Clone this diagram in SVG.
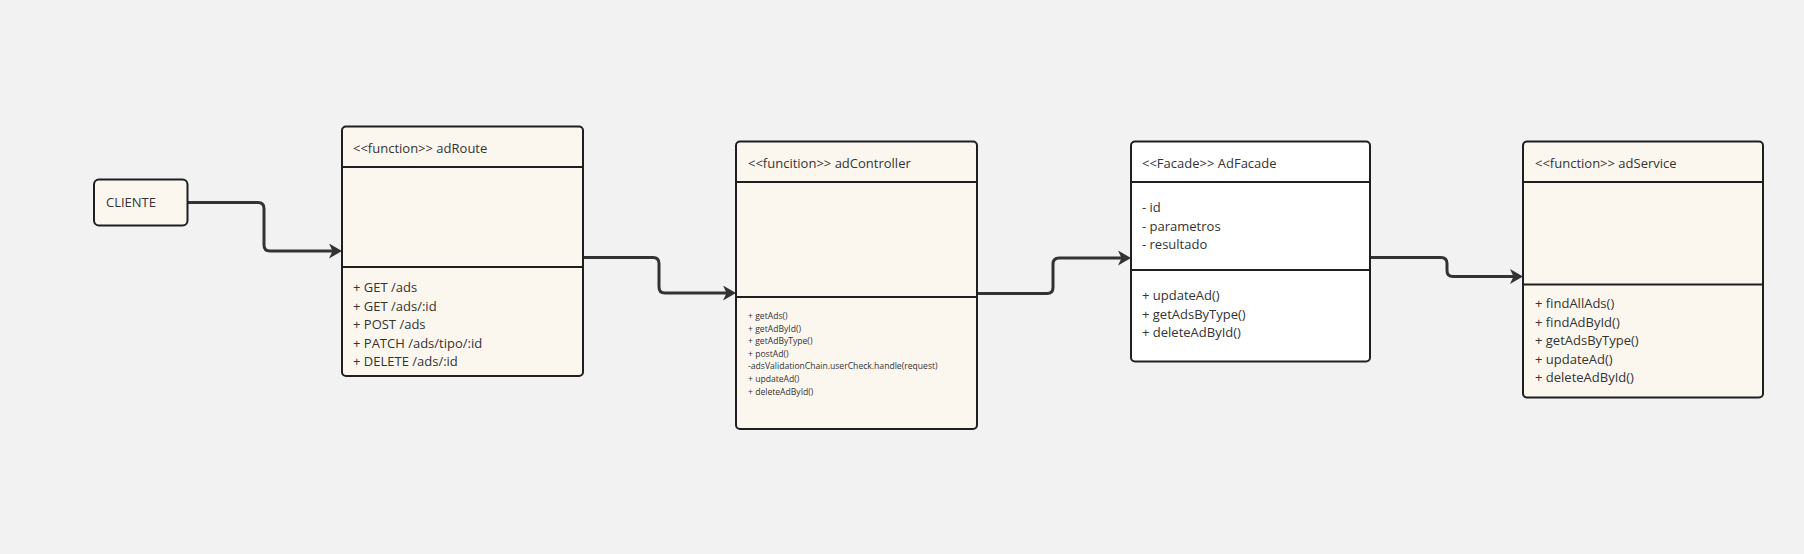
<svg xmlns="http://www.w3.org/2000/svg" width="1804" height="554" viewBox="0 0 1804 554">
<defs>
<style>
.bg{fill:#f2f2f2}
.box{fill:#fbf7ef;stroke:#1f1f1f;stroke-width:2}
.white{fill:#ffffff}
.sep{stroke:#1f1f1f;stroke-width:2}
text{font-family:"Open Sans","Noto Sans","Liberation Sans",sans-serif;fill:#333333}
.t{font-size:13px}
.s{font-size:8.6px}
.conn{fill:none;stroke:#333333;stroke-width:3;stroke-linejoin:round}
</style>
<marker id="arr" markerUnits="userSpaceOnUse" markerWidth="14" markerHeight="16" refX="5" refY="7.5" orient="auto" viewBox="0 0 14 16">
<path d="M0,0 L13,7.5 L0,15 L3.5,7.5 Z" fill="#333333"/>
</marker>
</defs>
<rect class="bg" x="0" y="0" width="1804" height="554"/>

<g id="connectors">
<path class="conn" marker-end="url(#arr)" d="M187,202.5 H258 Q264,202.5 264,208.5 V245 Q264,251 270,251 H334"/>
<path class="conn" marker-end="url(#arr)" d="M583,257.5 H653 Q659,257.5 659,263.5 V287 Q659,293 665,293 H728"/>
<path class="conn" marker-end="url(#arr)" d="M977,293.5 H1047 Q1053,293.5 1053,287.5 V264 Q1053,258 1059,258 H1123"/>
<path class="conn" marker-end="url(#arr)" d="M1370,257.5 H1441 Q1447,257.5 1447,263.5 V270.5 Q1447,276.5 1453,276.5 H1515"/>
</g>

<g id="cliente">
<rect class="box" x="94" y="179.5" width="93.5" height="46" rx="5"/>
<text class="t" x="106" y="207">CLIENTE</text>
</g>

<g id="adRoute">
<rect class="box" x="342" y="126.5" width="241" height="249.5" rx="4"/>
<line class="sep" x1="342" y1="167" x2="583" y2="167"/>
<line class="sep" x1="342" y1="267" x2="583" y2="267"/>
<text class="t" x="353" y="153">&lt;&lt;function&gt;&gt; adRoute</text>
<text class="t" x="353" y="292">+ GET /ads</text>
<text class="t" x="353" y="310.5">+ GET /ads/:id</text>
<text class="t" x="353" y="329">+ POST /ads</text>
<text class="t" x="353" y="347.5">+ PATCH /ads/tipo/:id</text>
<text class="t" x="353" y="366">+ DELETE /ads/:id</text>
</g>

<g id="adController">
<rect class="box" x="736" y="141.5" width="241" height="287.5" rx="4"/>
<line class="sep" x1="736" y1="182" x2="977" y2="182"/>
<line class="sep" x1="736" y1="297" x2="977" y2="297"/>
<text class="t" x="748" y="168">&lt;&lt;funcition&gt;&gt; adController</text>
<text class="s" x="748" y="319">+ getAds()</text>
<text class="s" x="748" y="331.6">+ getAdById()</text>
<text class="s" x="748" y="344.2">+ getAdByType()</text>
<text class="s" x="748" y="356.8">+ postAd()</text>
<text class="s" x="748" y="369.4">-adsValidationChain.userCheck.handle(request)</text>
<text class="s" x="748" y="382">+ updateAd()</text>
<text class="s" x="748" y="394.6">+ deleteAdById()</text>
</g>

<g id="adFacade">
<rect class="box white" x="1131" y="141.5" width="239" height="220" rx="4"/>
<line class="sep" x1="1131" y1="182" x2="1370" y2="182"/>
<line class="sep" x1="1131" y1="270" x2="1370" y2="270"/>
<text class="t" x="1142" y="168">&lt;&lt;Facade&gt;&gt; AdFacade</text>
<text class="t" x="1142" y="212">- id</text>
<text class="t" x="1142" y="230.5">- parametros</text>
<text class="t" x="1142" y="249">- resultado</text>
<text class="t" x="1142" y="300">+ updateAd()</text>
<text class="t" x="1142" y="318.5">+ getAdsByType()</text>
<text class="t" x="1142" y="337">+ deleteAdById()</text>
</g>

<g id="adService">
<rect class="box" x="1523" y="141.5" width="240" height="256" rx="4"/>
<line class="sep" x1="1523" y1="182" x2="1763" y2="182"/>
<line class="sep" x1="1523" y1="284.5" x2="1763" y2="284.5"/>
<text class="t" x="1535" y="168">&lt;&lt;function&gt;&gt; adService</text>
<text class="t" x="1535" y="308">+ findAllAds()</text>
<text class="t" x="1535" y="326.5">+ findAdById()</text>
<text class="t" x="1535" y="345">+ getAdsByType()</text>
<text class="t" x="1535" y="363.5">+ updateAd()</text>
<text class="t" x="1535" y="382">+ deleteAdById()</text>
</g>
</svg>
